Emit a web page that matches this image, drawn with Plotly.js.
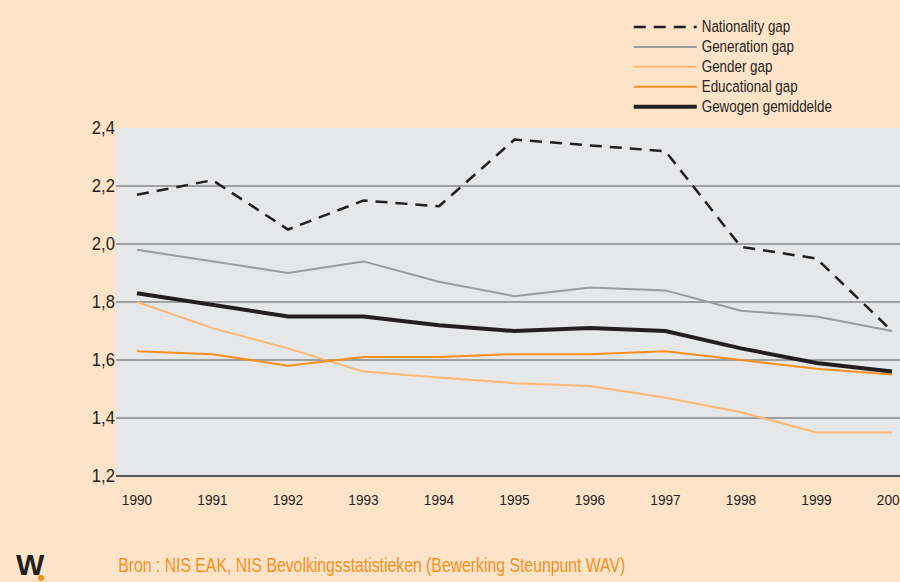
<!DOCTYPE html>
<html>
<head>
<meta charset="utf-8">
<script src="https://cdn.plot.ly/plotly-3.0.1.min.js"></script>
<style>
  html, body { margin: 0; padding: 0; background: #FDE4C9; }
  #chart { width: 900px; height: 582px; }
</style>
</head>
<body>
<div id="chart"></div>
<script>
const years = [1990, 1991, 1992, 1993, 1994, 1995, 1996, 1997, 1998, 1999, 2000];
const nationalityGap = [2.17, 2.22, 2.05, 2.15, 2.13, 2.36, 2.34, 2.32, 1.99, 1.95, 1.70];
const generationGap  = [1.98, 1.94, 1.90, 1.94, 1.87, 1.82, 1.85, 1.84, 1.77, 1.75, 1.70];
const genderGap      = [1.80, 1.71, 1.64, 1.56, 1.54, 1.52, 1.51, 1.47, 1.42, 1.35, 1.35];
const educationalGap = [1.63, 1.62, 1.58, 1.61, 1.61, 1.62, 1.62, 1.63, 1.60, 1.57, 1.55];
const weightedAvg    = [1.83, 1.79, 1.75, 1.75, 1.72, 1.70, 1.71, 1.70, 1.64, 1.59, 1.56];
const yTicks = [1.2, 1.4, 1.6, 1.8, 2.0, 2.2, 2.4];
const sourceText = 'Bron : NIS EAK, NIS Bevolkingsstatistieken (Bewerking Steunpunt WAV)';

const FONT = '"Liberation Sans", Arial, sans-serif';
const DARK = '#231F20';

const traces = [
  { name: 'Nationality gap', y: nationalityGap, line: { color: DARK, width: 2.5, dash: '12px,8px' } },
  { name: 'Generation gap',  y: generationGap,  line: { color: '#9A9B9D', width: 2 } },
  { name: 'Gender gap',      y: genderGap,      line: { color: '#FDB874', width: 2 } },
  { name: 'Educational gap', y: educationalGap, line: { color: '#F7901E', width: 2 } },
  { name: 'Gewogen gemiddelde', y: weightedAvg, line: { color: DARK, width: 4 } }
].map(t => Object.assign({ x: years, type: 'scatter', mode: 'lines', hoverinfo: 'skip' }, t));

const layout = {
  width: 900, height: 582,
  paper_bgcolor: '#FDE4C9',
  plot_bgcolor: '#E6E7E8',
  margin: { l: 116, r: 0, t: 128, b: 106, pad: 0 },
  separators: ',.',
  font: { family: FONT, color: DARK },
  showlegend: true,
  legend: {
    x: 0.654, y: 1.333, xanchor: 'left', yanchor: 'top',
    bgcolor: 'rgba(0,0,0,0)',
    font: { family: FONT, size: 13, color: DARK },
    itemwidth: 63,
    tracegroupgap: 0
  },
  xaxis: {
    type: 'linear',
    range: [1989.722, 2000.106],
    tickvals: years,
    tickformat: 'd',
    ticklabeloverflow: 'allow',
    showgrid: false,
    zeroline: false,
    showline: false,
    ticks: 'outside', ticklen: 9, tickcolor: 'rgba(0,0,0,0)',
    tickfont: { family: FONT, size: 15.5, color: DARK },
    fixedrange: true
  },
  yaxis: {
    range: [1.2, 2.4],
    tickvals: yTicks,
    tickformat: '.1f',
    showgrid: true,
    gridcolor: '#9E9FA1',
    gridwidth: 1.5,
    zeroline: false,
    showline: false,
    ticks: '',
    tickfont: { family: FONT, size: 18.5, color: DARK },
    fixedrange: true
  },
  shapes: [
    { type: 'line', xref: 'paper', yref: 'paper', x0: 0, x1: 1, y0: 0, y1: 0,
      line: { color: '#58595B', width: 2 } },
    { type: 'circle', xref: 'paper', yref: 'paper',
      x0: (38 - 116) / 784, x1: (44 - 116) / 784,
      y0: (476 - 581) / 348, y1: (476 - 575) / 348,
      fillcolor: '#F7901E', line: { width: 0 } }
  ],
  annotations: [
    { text: sourceText, xref: 'paper', yref: 'paper',
      x: 0, y: (476 - 565) / 348, xanchor: 'left', yanchor: 'middle',
      showarrow: false, font: { family: FONT, size: 19.5, color: '#F7901E' } },
    { text: '<b>W</b>', xref: 'paper', yref: 'paper',
      x: (14 - 116) / 784, y: (476 - 564) / 348, xanchor: 'left', yanchor: 'middle',
      showarrow: false, font: { family: FONT, size: 30, color: DARK } }
  ]
};

// Narrow the glyphs horizontally (and stretch vertically where needed) to imitate the condensed typeface.
// pivot 'attr' scales about the text's own x/y; pivot 'left' keeps its left edge in place.
function squeeze(selector, sx, sy, pivot) {
  document.querySelectorAll(selector).forEach(function (t) {
    let x = parseFloat(t.getAttribute('x')) || 0;
    let y = parseFloat(t.getAttribute('y')) || 0;
    if (pivot === 'left') {
      const b = t.getBBox();
      x = b.x; y = b.y + b.height / 2;
    }
    const prev = t.getAttribute('transform') || '';
    t.setAttribute('transform',
      prev + ' translate(' + x + ',' + y + ') scale(' + sx + ',' + sy + ') translate(' + (-x) + ',' + (-y) + ')');
  });
}

Plotly.newPlot('chart', traces, layout, { displayModeBar: false, staticPlot: true }).then(function () {
  squeeze('#chart .xtick text', 0.88, 1, 'attr');
  squeeze('#chart .ytick text', 0.9, 1, 'attr');
  squeeze('#chart .legendtext', 1.03, 1.3, 'attr');
  squeeze('#chart .annotation[data-index="0"] .annotation-text', 0.81, 1, 'left');
});
</script>
</body>
</html>
